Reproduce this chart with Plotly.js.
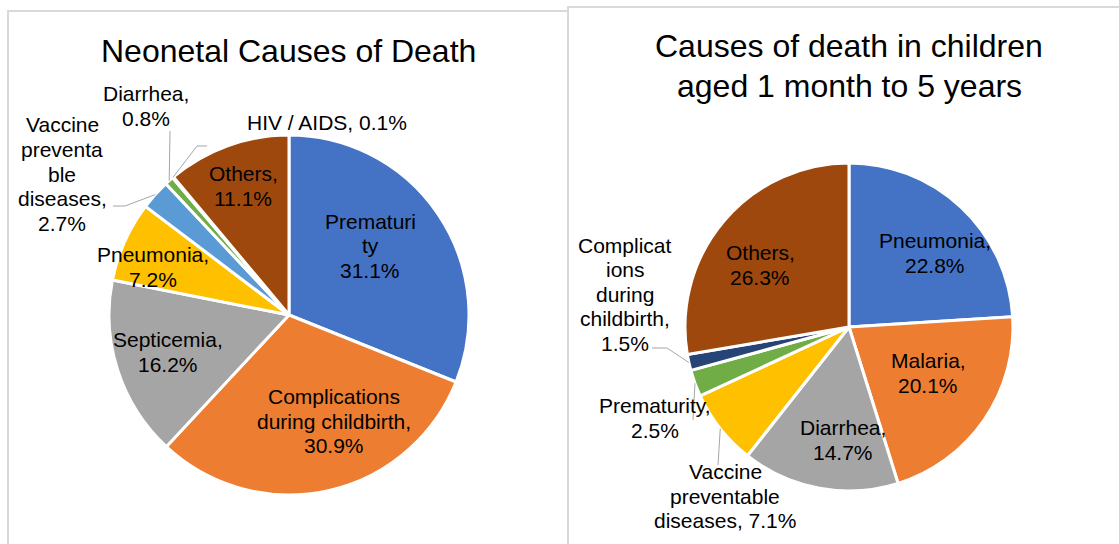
<!DOCTYPE html>
<html>
<head>
<meta charset="utf-8">
<script src="https://cdn.plot.ly/plotly-3.0.1.min.js"></script>
<style>
  html, body { margin: 0; padding: 0; background: #ffffff; }
  #chart { width: 1119px; height: 544px; }
</style>
</head>
<body>
<div id="chart"></div>
<script>
// Neonatal causes of death, share of deaths (%)
const neoCategories = ["Prematurity", "Complications during childbirth", "Septicemia", "Pneumonia",
  "Vaccine preventable diseases", "Diarrhea", "HIV / AIDS", "Others"];
const neoValues = [31.1, 30.9, 16.2, 7.2, 2.7, 0.8, 0.1, 11.1];

// Causes of death in children aged 1 month to 5 years, share of deaths (%)
const childCategories = ["Pneumonia", "Malaria", "Diarrhea", "Vaccine preventable diseases",
  "Prematurity", "Complications during childbirth", "Others"];
const childValues = [22.8, 20.1, 14.7, 7.1, 2.5, 1.5, 26.3];

const neoTitle = ["Neonetal Causes of Death"];
const childTitle = ["Causes of death in children", "aged 1 month to 5 years"];

// ---- styling and placement ----
const W = 1119, H = 544;
const FONT = "Liberation Sans, Arial, Helvetica, sans-serif";
const LABEL_SIZE = 21;
const LINE_GAP = 24.5;

const neoColors = ["#4472C4", "#ED7D31", "#A5A5A5", "#FFC000", "#5B9BD5", "#70AD47", "#264478", "#9E480E"];
const childColors = ["#4472C4", "#ED7D31", "#A5A5A5", "#FFC000", "#70AD47", "#264478", "#9E480E"];

const neoGeo = { cx: 289, cy: 315, r: 180 };
const childGeo = { cx: 849, cy: 327, r: 164 };

// Data label layout: wrapped lines ({v} is replaced by the slice value), centre of the block,
// and for outside labels the bend points of the leader line.
const neoLabels = {
  "Prematurity": { lines: ["Prematuri", "ty", "{v}"], x: 370, y: 246 },
  "Complications during childbirth": { lines: ["Complications", "during childbirth,", "{v}"], x: 334, y: 421 },
  "Septicemia": { lines: ["Septicemia,", "{v}"], x: 168, y: 352 },
  "Pneumonia": { lines: ["Pneumonia,", "{v}"], x: 153, y: 267 },
  "Vaccine preventable diseases": { lines: ["Vaccine", "preventa", "ble", "diseases,", "{v}"], x: 62, y: 174,
    leader: [[125, 206], [113, 206]] },
  "Diarrhea": { lines: ["Diarrhea,", "{v}"], x: 146, y: 106, leader: [[170, 131]] },
  "HIV / AIDS": { lines: ["HIV / AIDS, {v}"], x: 327, y: 123, leader: [[197, 146], [207, 146]] },
  "Others": { lines: ["Others,", "{v}"], x: 243, y: 186 }
};
const childLabels = {
  "Pneumonia": { lines: ["Pneumonia,", "{v}"], x: 935, y: 253 },
  "Malaria": { lines: ["Malaria,", "{v}"], x: 928, y: 373 },
  "Diarrhea": { lines: ["Diarrhea,", "{v}"], x: 843, y: 440 },
  "Vaccine preventable diseases": { lines: ["Vaccine", "preventable", "diseases, {v}"], x: 725, y: 496,
    leader: [[718, 465]] },
  "Prematurity": { lines: ["Prematurity,", "{v}"], x: 655, y: 418, leader: [[693, 420]] },
  "Complications during childbirth": { lines: ["Complicat", "ions", "during", "childbirth,", "{v}"], x: 625, y: 294,
    leader: [[667, 348], [652, 348]] },
  "Others": { lines: ["Others,", "{v}"], x: 760, y: 265 }
};

const px = x => x / W;
const py = y => 1 - y / H;

function pieTrace(cats, vals, colors, geo) {
  return {
    type: "pie",
    labels: cats,
    values: vals,
    sort: false,
    direction: "clockwise",
    rotation: 0,
    marker: { colors: colors, line: { color: "#ffffff", width: 3 } },
    textinfo: "none",
    hovertemplate: "%{label}: %{value}%<extra></extra>",
    showlegend: false,
    domain: {
      x: [px(geo.cx - geo.r), px(geo.cx + geo.r)],
      y: [py(geo.cy + geo.r), py(geo.cy - geo.r)]
    }
  };
}

const annotations = [];
const shapes = [];

function addText(lines, x, y, size, gap) {
  lines.forEach((t, i) => {
    annotations.push({
      xref: "paper", yref: "paper",
      x: px(x), y: py(y + (i - (lines.length - 1) / 2) * gap),
      text: t, showarrow: false,
      xanchor: "center", yanchor: "middle",
      font: { family: FONT, size: size, color: "#000000" }
    });
  });
}

function addLabels(cats, vals, geo, table) {
  const total = vals.reduce((a, b) => a + b, 0);
  let cum = 0;
  cats.forEach((c, i) => {
    const v = vals[i];
    const mid = (cum + v / 2) / total * 2 * Math.PI;
    cum += v;
    const spec = table[c];
    const valText = v.toFixed(1) + "%";
    addText(spec.lines.map(s => s.replace("{v}", valText)), spec.x, spec.y, LABEL_SIZE, LINE_GAP);
    if (spec.leader) {
      const rim = [geo.cx + geo.r * Math.sin(mid), geo.cy - geo.r * Math.cos(mid)];
      const pts = [rim].concat(spec.leader);
      const path = pts.map((p, k) => (k ? "L" : "M") + px(p[0]) + "," + py(p[1])).join(" ");
      shapes.push({ type: "path", xref: "paper", yref: "paper", path: path,
        line: { color: "#a6a6a6", width: 1 } });
    }
  });
}

// chart frames
shapes.push({ type: "rect", xref: "paper", yref: "paper",
  x0: px(8), x1: px(568), y0: py(11), y1: py(600), line: { color: "#d9d9d9", width: 2 } });
shapes.push({ type: "rect", xref: "paper", yref: "paper",
  x0: px(568), x1: px(1130), y0: py(7), y1: py(600), line: { color: "#d9d9d9", width: 2 } });

addText(neoTitle, 288, 51, 32, 40);
addText(childTitle, 849, 66, 32, 39);
addLabels(neoCategories, neoValues, neoGeo, neoLabels);
addLabels(childCategories, childValues, childGeo, childLabels);

const layout = {
  width: W, height: H,
  margin: { l: 0, r: 0, t: 0, b: 0 },
  paper_bgcolor: "#ffffff",
  plot_bgcolor: "#ffffff",
  showlegend: false,
  annotations: annotations,
  shapes: shapes
};

Plotly.newPlot("chart", [
  pieTrace(neoCategories, neoValues, neoColors, neoGeo),
  pieTrace(childCategories, childValues, childColors, childGeo)
], layout, { displayModeBar: false, staticPlot: true });
</script>
</body>
</html>
